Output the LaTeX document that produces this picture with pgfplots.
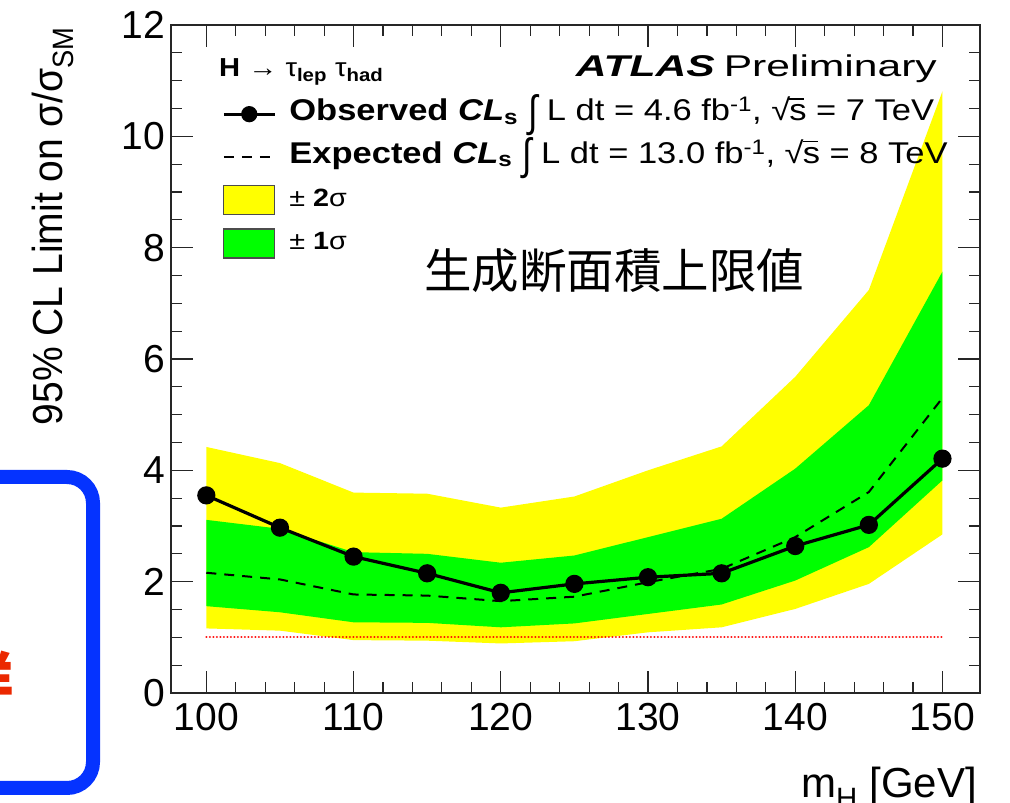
\documentclass[border=0pt]{standalone}
\usepackage{fontspec}
\usepackage{graphicx}
\setmainfont{Liberation Sans}
\newfontfamily\legfont{Liberation Sans}[FakeStretch=1.15]
\newfontfamily\hfont{Liberation Sans}[FakeStretch=1.12]
\newfontfamily\atlasfont{Liberation Sans}[FakeStretch=1.42]
\newfontfamily\ylfont{Liberation Sans}[FakeStretch=0.93]
\newfontfamily\cjk{Noto Sans CJK JP}
\usepackage{pgfplots}
\usepackage{pgfplotstable}
\pgfplotsset{compat=1.18}

\definecolor{bandyellow}{RGB}{255,255,0}
\definecolor{bandgreen}{RGB}{0,255,0}
\definecolor{boxblue}{RGB}{5,51,255}
\definecolor{notered}{RGB}{235,40,0}

% root s with an overbar, and a tall integral sign
\newcommand\rootS{√\kern-0.03em\rlap{\rule[0.70em]{0.5em}{0.055em}}s}
\newcommand\integ{\hspace{0.35em}\raisebox{-0.2em}{\scalebox{1}[1.45]{∫}}\hspace{0.3em}}

% legend samples
\pgfplotsset{
  obs legend/.style={legend image code/.code={\draw[mark repeat=2,mark phase=2,##1] plot coordinates {(0bp,0bp) (25.5bp,0bp) (51bp,0bp)};}},
  exp legend/.style={legend image code/.code={\draw[##1] (0bp,0bp) -- (51bp,0bp);}},
  band legend/.style={legend image code/.code={\draw[draw=black!70, line width=1.2bp, ##1] (0bp,-14.5bp) rectangle (51bp,14.5bp);}},
}

% m_H, observed, expected
\pgfplotstableread{
mH  obs   exp
100 3.55  2.16
105 2.97  2.04
110 2.45  1.77
115 2.15  1.75
120 1.80  1.65
125 1.96  1.73
130 2.08  1.99
135 2.15  2.23
140 2.64  2.80
145 3.02  3.61
150 4.21  5.30
}\limitdata

% +-2 sigma band outline: upper edge forward, lower edge back
\pgfplotstableread{
mH  y
100 4.42
105 4.13
110 3.60
115 3.58
120 3.33
125 3.53
130 4.00
135 4.43
140 5.68
145 7.24
150 10.81
150 2.85
145 1.96
140 1.51
135 1.18
130 1.09
125 0.93
120 0.89
115 0.94
110 0.95
105 1.12
100 1.16
}\twosigma

% +-1 sigma band outline
\pgfplotstableread{
mH  y
100 3.11
105 2.95
110 2.53
115 2.50
120 2.34
125 2.47
130 2.80
135 3.13
140 4.03
145 5.17
150 7.57
150 3.82
145 2.62
140 2.02
135 1.59
130 1.42
125 1.25
120 1.18
115 1.26
110 1.27
105 1.45
100 1.56
}\onesigma

\begin{document}
\begin{tikzpicture}
\path (0,0) rectangle (1010bp,803bp);

% framed note at the left edge
\begin{scope}
\clip (0,0) rectangle (1010bp,803bp);
\draw[boxblue, line width=14bp, rounded corners=26bp] (-60bp,15bp) rectangle (93bp,326bp);
\node[anchor=east, inner sep=0pt, text=notered, font=\cjk\bfseries\fontsize{60bp}{60bp}\selectfont] at (14bp,123bp) {詳};
\end{scope}

\begin{axis}[
  at={(171bp,110bp)}, anchor=south west,
  width=809bp, height=668bp, scale only axis,
  xmin=97.6, xmax=152.55, ymin=0, ymax=12,
  xtick={100,110,...,150}, minor x tick num=4,
  ytick={0,2,...,12}, minor y tick num=3,
  tick align=inside, xtick pos=both, ytick pos=both,
  xticklabel pos=bottom, yticklabel pos=left,
  major tick length=22bp, minor tick length=11bp,
  axis line style={black!85, line width=1.3bp},
  tick style={black!85, line width=1.2bp},
  ticklabel style={font=\fontsize{39bp}{44bp}\selectfont, inner sep=0pt},
  xticklabel style={anchor=north, yshift=-10bp},
  yticklabel style={anchor=east, xshift=-6bp},
  /pgf/number format/assume math mode=true,
  legend style={draw=none, fill=none, at={(0.063,0.8885)}, anchor=north west,
    inner sep=0pt, column sep=13bp, row sep=13.5bp,
    nodes={inner sep=0pt, text height=21bp, text depth=8bp,
      font=\legfont\fontsize{30bp}{34bp}\selectfont},
    cells={anchor=west}},
]
% bands
\addplot[fill=bandyellow, draw=none, forget plot] table[x=mH,y=y]{\twosigma} -- cycle;
\addplot[fill=bandgreen, draw=none, forget plot] table[x=mH,y=y]{\onesigma} -- cycle;
% SM reference
\addplot[red, line width=2.2bp, line cap=round, dash pattern=on 0.1bp off 3.4bp, forget plot] coordinates {(100,1) (150,1)};
% expected and observed limits
\addplot[black, line width=2bp, dash pattern=on 10bp off 8bp, forget plot] table[x=mH,y=exp]{\limitdata};
\addplot[black, line width=3.2bp, mark=*, mark size=7.5bp, forget plot] table[x=mH,y=obs]{\limitdata};

\addlegendimage{black, line width=3.2bp, mark=*, mark size=6.5bp, obs legend}
\addlegendentry{\textbf{Observed \textit{CL}\textsubscript{s}}\integ L dt = 4.6 fb\textsuperscript{-1}, \rootS{} = 7 TeV}
\addlegendimage{black, line width=2bp, dash pattern=on 10bp off 8bp, exp legend}
\addlegendentry{\textbf{Expected \textit{CL}\textsubscript{s}}\integ L dt = 13.0 fb\textsuperscript{-1}, \rootS{} = 8 TeV}
\addlegendimage{fill=bandyellow, band legend}
\addlegendentry{\fontsize{25bp}{28bp}\selectfont ± \textbf{2}σ}
\addlegendimage{fill=bandgreen, band legend}
\addlegendentry{\fontsize{25bp}{28bp}\selectfont ± \textbf{1}σ}
\end{axis}

\node[anchor=base west, inner sep=0pt, font=\hfont\fontsize{26bp}{30bp}\selectfont] at (219bp,726bp)
  {\textbf{H} → τ\textsubscript{\textbf{lep}} τ\textsubscript{\textbf{had}}};
\node[anchor=base east, inner sep=0pt, font=\atlasfont\fontsize{30bp}{34bp}\selectfont] at (937bp,726bp)
  {\textbf{\textit{ATLAS}}\hspace{0.3em}Preliminary};
\node[inner sep=0pt, font=\cjk\fontsize{47.5bp}{50bp}\selectfont] at (614bp,532bp) {生成断面積上限値};

\node[rotate=90, anchor=base east, inner sep=0pt, font=\ylfont\fontsize{42bp}{46bp}\selectfont] at (62bp,776bp)
  {95\% CL Limit on σ/σ\textsubscript{SM}};
\node[anchor=base east, inner sep=0pt, font=\fontsize{42bp}{46bp}\selectfont] at (977bp,6bp)
  {m\textsubscript{H} [GeV]};

% the page is exactly the drawing area
\pgfresetboundingbox
\path[use as bounding box] (0,0) rectangle (1010bp,803bp);
\end{tikzpicture}
\end{document}
